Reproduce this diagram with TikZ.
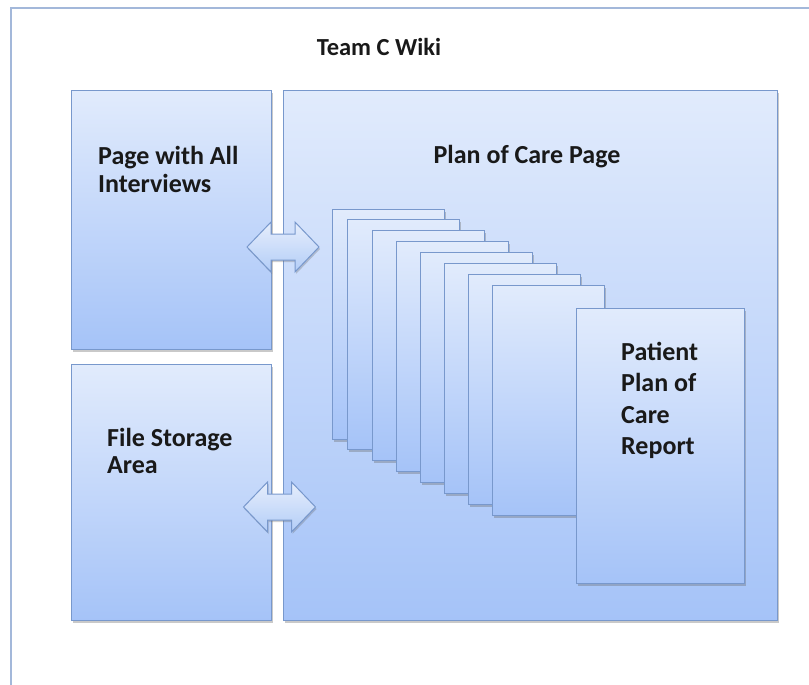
\documentclass[tikz,border=0pt]{standalone}
\usepackage{fontspec}
\setmainfont{Carlito}
\usetikzlibrary{shadows}
\definecolor{paneltop}{HTML}{E1EBFC}
\definecolor{panelbot}{HTML}{A5C3F8}
\definecolor{paneledge}{HTML}{7898CC}
\definecolor{frameedge}{HTML}{A3B8DA}
\definecolor{arrowtop}{HTML}{E6EEFC}
\definecolor{arrowbot}{HTML}{B3CDF7}
\tikzset{
  panel/.style={draw=paneledge, line width=1.4pt, top color=paneltop, bottom color=panelbot,
    anchor=north west, inner sep=0pt,
    drop shadow={shadow xshift=1pt, shadow yshift=-2.5pt, opacity=0.35, fill=black!60}},
  sheet/.style={panel, minimum width=112pt, minimum height=230pt},
  label/.style={font=\bfseries, text=black!90, inner sep=0pt, align=left},
  link/.style={draw=paneledge, line width=1pt, top color=arrowtop, bottom color=arrowbot,
    drop shadow={shadow xshift=1pt, shadow yshift=-2pt, opacity=0.3, fill=black!60}},
}
\begin{document}
\begin{tikzpicture}[x=1pt, y=-1pt]
\useasboundingbox (0,0) rectangle (809,685);
\fill[white] (0,0) rectangle (809,685);
% outer wiki frame, running off the page to the right and bottom
\draw[frameedge, line width=1.5pt] (11,690) -- (11,8) -- (815,8);
\node[label, font=\bfseries\fontsize{24.5}{28}\selectfont] (title) at (379,47) {Team C Wiki};

% side pages and the main page
\node[panel, minimum width=200pt, minimum height=259pt] (interviews) at (71,90) {};
\node[panel, minimum width=200pt, minimum height=256pt] (storage) at (71,364) {};
\node[panel, minimum width=494pt, minimum height=530pt] (plan) at (283,90) {};

\node[label, anchor=west, font=\bfseries\fontsize{26}{28}\selectfont] (interviewstext) at (98,169) {Page with All\\Interviews};
\node[label, anchor=west, font=\bfseries\fontsize{26}{27}\selectfont] (storagetext) at (107,450.5) {File Storage\\Area};
\node[label, font=\bfseries\fontsize{26}{28}\selectfont] (plantext) at (527,157) {Plan of Care Page};

% stack of report sheets
\node[sheet] (s1) at (332,209) {};
\node[sheet] (s2) at (347,219) {};
\node[sheet] (s3) at (372,230) {};
\node[sheet] (s4) at (396,241) {};
\node[sheet] (s5) at (420,252) {};
\node[sheet] (s6) at (444,263) {};
\node[sheet] (s7) at (468,274) {};
\node[sheet] (s8) at (492,285) {};
\node[panel, minimum width=168pt, minimum height=275pt] (report) at (576,308) {};
\node[label, anchor=west, font=\bfseries\fontsize{26}{31.5}\selectfont] (reporttext) at (621,400.5) {Patient\\Plan of\\Care\\Report};

% two-way links across the gap between the side pages and the main page
\coordinate (linkA) at (283,247);
\coordinate (linkB) at (279.5,507);
\foreach \c in {linkA, linkB} {
  \path[link, shift={(\c)}]
    (-36,0) -- (-12,-25) -- (-12,-13) -- (12,-13) -- (12,-25) -- (36,0)
    -- (12,25) -- (12,13) -- (-12,13) -- (-12,25) -- cycle;
}
\end{tikzpicture}
\end{document}
